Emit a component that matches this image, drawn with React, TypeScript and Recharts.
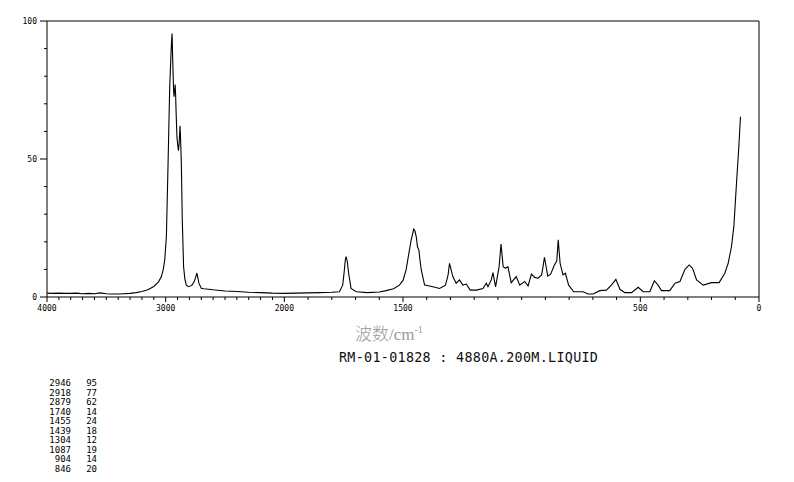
import { LineChart, Line, XAxis, YAxis, ReferenceLine } from 'recharts'

// Raman spectrum, wavenumber (cm-1) vs relative intensity
const wavenumbers = [
  4000, 3950, 3900, 3850, 3800, 3750, 3700, 3650, 3600, 3550, 3500, 3450, 3400, 3350, 3300, 3250,
  3200, 3150, 3100, 3060, 3036, 3020, 3008, 2994, 2981, 2966, 2955, 2950, 2946, 2942, 2938, 2934,
  2930, 2926, 2920, 2916, 2912, 2905, 2898, 2892, 2886, 2879, 2874, 2868, 2860, 2849, 2838, 2826,
  2810, 2798, 2780, 2760, 2745, 2737, 2730, 2720, 2700, 2680, 2658, 2600, 2500, 2400, 2300, 2200,
  2100, 2000, 1900, 1852, 1800, 1768, 1754, 1748, 1743, 1740, 1735, 1729, 1719, 1697, 1650, 1600,
  1571, 1540, 1515, 1500, 1487, 1473, 1465, 1459, 1455, 1450, 1444, 1439, 1433, 1428, 1423, 1409,
  1388, 1370, 1346, 1321, 1310, 1304, 1290, 1276, 1262, 1248, 1233, 1217, 1191, 1163, 1149, 1142,
  1128, 1121, 1110, 1095, 1087, 1078, 1068, 1058, 1044, 1023, 1008, 987, 973, 959, 945, 931,
  916, 910, 904, 890, 878, 862, 852, 846, 838, 826, 816, 802, 781, 741, 720, 699,
  671, 643, 622, 603, 586, 565, 537, 509, 488, 460, 441, 425, 411, 376, 354, 333,
  312, 294, 280, 263, 235, 200, 168, 144, 130, 116, 106, 95, 86, 78,
]
const intensities = [
  1.4, 1.3, 1.4, 1.3, 1.3, 1.4, 1.2, 1.3, 1.2, 1.5, 1.2, 1.1, 1.1, 1.2, 1.3, 1.6,
  2.0, 2.6, 3.8, 5.5, 7.4, 10, 13.4, 21.8, 46, 76, 88, 93, 95.5, 88, 82, 76,
  72.6, 74, 77, 73, 67, 58, 55, 53, 56, 62, 57, 48.5, 28, 11, 6.5, 4.3,
  3.8, 3.9, 4.2, 5.5, 7.5, 8.7, 7.2, 5, 3.2, 3.0, 2.9, 2.6, 2.2, 2.0, 1.7, 1.6,
  1.4, 1.3, 1.5, 1.6, 1.7, 1.9, 4.3, 9, 13.5, 14.6, 13, 8.6, 3.1, 1.9, 1.6, 1.8,
  2.3, 3, 4.3, 6, 9.8, 17, 21, 23, 24.6, 24, 21.8, 18.2, 17, 13, 9.8, 4.3,
  4.0, 3.6, 3.1, 4.3, 8, 12.2, 7.4, 5, 6.2, 4.3, 4.7, 2.5, 2.5, 3.1, 5, 3.7,
  6.2, 8.8, 3.7, 11, 19.2, 11, 10.4, 11, 5.2, 7.4, 4.3, 5.6, 4, 8.3, 7.1, 6.8,
  8, 11, 14.4, 7.6, 8.3, 11.6, 13, 20.7, 12.2, 8, 8.6, 4.3, 1.9, 1.9, 1.1, 1.1,
  2.3, 2.5, 4.3, 6.4, 2.8, 1.6, 1.6, 3.5, 1.9, 1.9, 5.9, 4.3, 2.3, 2.3, 5, 5.6,
  10, 11.6, 10.4, 6.2, 4.3, 5.2, 5.2, 8.6, 12.2, 18.2, 25.5, 41, 53, 65.3,
]

const xMajor = [4000, 3000, 2000, 1500, 500, 0]
const yMajor = [0, 50, 100]

const peakWn = ['2946', '2918', '2879', '1740', '1455', '1439', '1304', '1087', '904', '846']
const peakInt = ['95', '77', '62', '14', '24', '18', '12', '19', '14', '20']

const sampleCode = 'RM-01-01828 : 4880A.200M.LIQUID'

// the axis is compressed 2x above 2000 cm-1
const toU = (w: number) => (w >= 2000 ? 2000 + (w - 2000) / 2 : w)

const data = wavenumbers.map((w, i) => ({ u: toU(w), v: intensities[i] }))

const xTickWn: number[] = []
for (let w = 4000; w >= 0; w -= 100) xTickWn.push(w)
const xTicks = xTickWn.map(toU)
const yTicks = [0, 10, 20, 30, 40, 50, 60, 70, 80, 90, 100]

const MONO = '"DejaVu Sans Mono", monospace'

function XTick(props: any) {
  const { x, y, payload } = props
  const w = xTickWn[xTicks.indexOf(payload.value)]
  const major = xMajor.includes(w)
  return (
    <g>
      <line x1={x} x2={x} y1={y} y2={y + (major ? 5 : 3)} stroke="#000" strokeWidth={1} />
      {major && (
        <text x={x} y={y + 14} textAnchor="middle" fontSize={8} fontFamily={MONO} fill="#000">
          {w}
        </text>
      )}
    </g>
  )
}

function YTick(props: any) {
  const { x, y, payload } = props
  const major = yMajor.includes(payload.value)
  return (
    <g>
      <line x1={x - (major ? 7 : 3)} x2={x} y1={y} y2={y} stroke="#000" strokeWidth={1} />
      {major && (
        <text x={x - 10} y={y + 3} textAnchor="end" fontSize={8} fontFamily={MONO} fill="#000">
          {payload.value}
        </text>
      )}
    </g>
  )
}

export default function App() {
  return (
    <div style={{ position: 'absolute', left: 0, top: 0, width: 794, height: 482, background: '#fff' }}>
      <LineChart
        width={794}
        height={482}
        data={data}
        margin={{ top: 21, right: 35, bottom: 165, left: 0 }}
      >
        <XAxis
          dataKey="u"
          type="number"
          domain={[0, 3000]}
          reversed
          ticks={xTicks}
          interval={0}
          tick={<XTick />}
          tickLine={false}
          tickSize={0}
          tickMargin={0}
          axisLine={{ stroke: '#000' }}
          height={20}
          allowDataOverflow
        />
        <YAxis
          type="number"
          domain={[0, 100]}
          ticks={yTicks}
          interval={0}
          tick={<YTick />}
          tickLine={false}
          tickSize={0}
          tickMargin={0}
          axisLine={{ stroke: '#000' }}
          width={47}
        />
        <ReferenceLine y={100} stroke="#000" />
        <ReferenceLine x={0} stroke="#000" />
        <Line
          dataKey="v"
          type="linear"
          stroke="#000"
          strokeWidth={1.1}
          dot={false}
          isAnimationActive={false}
        />
      </LineChart>

      <div
        style={{
          position: 'absolute',
          left: 355,
          top: 320,
          fontSize: 17,
          color: '#999',
          fontFamily: '"Liberation Serif", "Noto Sans CJK SC", serif',
          lineHeight: '20px',
          whiteSpace: 'nowrap',
        }}
      >
        <span style={{ fontFamily: '"Noto Sans CJK SC"', fontWeight: 300 }}>波数</span>/cm
        <sup style={{ fontSize: 10 }}>-1</sup>
      </div>

      <div
        style={{
          position: 'absolute',
          left: 339,
          top: 350,
          fontSize: 13.4,
          fontFamily: MONO,
          color: '#111',
          whiteSpace: 'pre',
          lineHeight: '16px',
          letterSpacing: 0.3,
        }}
      >
        {sampleCode}
      </div>

      <div style={{ position: 'absolute', left: 30, top: 379, fontFamily: MONO, fontSize: 9, lineHeight: '9.55px' }}>
        {peakWn.map((w, i) => (
          <div key={w} style={{ display: 'flex', height: 9.55 }}>
            <span style={{ width: 41, textAlign: 'right' }}>{w}</span>
            <span style={{ width: 26, textAlign: 'right' }}>{peakInt[i]}</span>
          </div>
        ))}
      </div>
    </div>
  )
}
